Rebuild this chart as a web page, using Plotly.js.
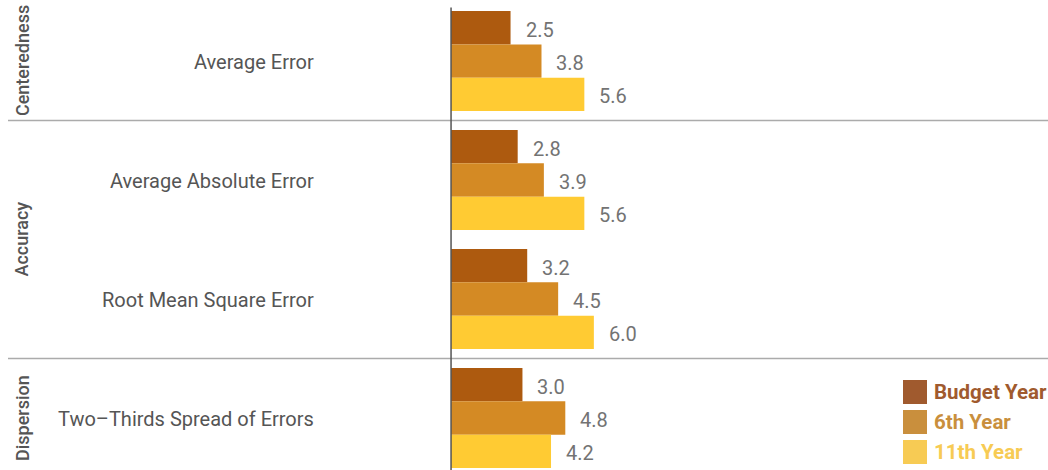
<!DOCTYPE html>
<html>
<head>
<meta charset="utf-8">
<script src="https://cdn.plot.ly/plotly-3.0.1.min.js"></script>
<style>html,body{margin:0;padding:0;background:#fff;}#chart{width:1048px;height:470px;}</style>
</head>
<body>
<div id="chart"></div>
<script>
// ---- data ----
const categories = ['Average Error', 'Average Absolute Error', 'Root Mean Square Error', 'Two\u2013Thirds Spread of Errors'];
const groupNames = ['Centeredness', 'Accuracy', 'Dispersion'];
const groupOfCategory = [0, 1, 1, 2];
const seriesNames = ['Budget Year', '6th Year', '11th Year'];
const budgetYear = [2.5, 2.8, 3.2, 3.0];
const sixthYear = [3.8, 3.9, 4.5, 4.8];
const eleventhYear = [5.6, 5.6, 6.0, 4.2];

// ---- styles ----
const barColors = ['#AD5A0F', '#D48A24', '#FFCB33'];
const legendColors = ['#A05A2E', '#C98F3D', '#F7CB54'];
const seriesValues = [budgetYear, sixthYear, eleventhYear];
const pos = categories.map((c, i) => i);
const bargap = 0.16;
const barW = (1 - bargap) / seriesValues.length;

const traces = seriesValues.map((vals, s) => ({
  type: 'bar', orientation: 'h', name: seriesNames[s],
  x: vals, y: pos, marker: {color: barColors[s]},
  hoverinfo: 'x+name'
}));

const annotations = [];
// value labels
seriesValues.forEach((vals, s) => {
  vals.forEach((v, i) => {
    annotations.push({
      x: v, y: i + (s - (seriesValues.length - 1) / 2) * barW, xref: 'x', yref: 'y',
      text: v.toFixed(1), showarrow: false, xanchor: 'left', yanchor: 'middle',
      xshift: 13, yshift: -2,
      font: {family: 'Roboto', size: 20, color: '#737373'}
    });
  });
});
// category labels
categories.forEach((c, i) => {
  annotations.push({
    x: 316 / 1048, xref: 'paper', y: i, yref: 'y', text: c, showarrow: false,
    xanchor: 'right', yanchor: 'middle', yshift: -1,
    font: {family: 'Roboto', size: 20, color: '#555555'}
  });
});
// group labels
groupNames.forEach((g, gi) => {
  const members = pos.filter(i => groupOfCategory[i] === gi);
  const center = (Math.min(...members) + Math.max(...members)) / 2;
  annotations.push({
    x: 22 / 1048, xref: 'paper', y: center, yref: 'y', text: g, showarrow: false,
    textangle: -90, xanchor: 'center', yanchor: 'middle',
    font: {family: 'Roboto', size: 18, weight: 500, color: '#555555'}
  });
});
// legend (manual)
const shapes = [];
seriesNames.forEach((n, s) => {
  const top = 380 + s * 30;
  shapes.push({
    type: 'rect', xref: 'paper', yref: 'paper',
    x0: 903 / 1048, x1: 927 / 1048, y0: 1 - (top + 24) / 470, y1: 1 - top / 470,
    fillcolor: legendColors[s], line: {width: 0}
  });
  annotations.push({
    x: 932 / 1048, xref: 'paper', y: 1 - (top + 12) / 470, yref: 'paper',
    text: '<b>' + n + '</b>', showarrow: false, xanchor: 'left', yanchor: 'middle',
    font: {family: 'Roboto', size: 20.5, color: legendColors[s]}
  });
});
// group separators
for (let i = 1; i < categories.length; i++) {
  if (groupOfCategory[i] !== groupOfCategory[i - 1]) {
    shapes.push({
      type: 'line', xref: 'paper', yref: 'y', x0: 8 / 1048, x1: 1, y0: i - 0.5, y1: i - 0.5,
      line: {color: '#ababab', width: 1.5}
    });
  }
}
// zero line
shapes.push({
  type: 'line', xref: 'x', yref: 'y', x0: 0, x1: 0, y0: -0.45, y1: 3.6,
  line: {color: '#555555', width: 1.5}
});

const layout = {
  width: 1048, height: 470,
  margin: {l: 0, r: 0, t: 0, b: 0},
  paper_bgcolor: '#ffffff', plot_bgcolor: '#ffffff',
  barmode: 'group', bargap: bargap, bargroupgap: 0,
  showlegend: false,
  xaxis: {range: [-18.95, 25.08], showgrid: false, zeroline: false, showticklabels: false, ticks: '', fixedrange: true},
  yaxis: {range: [3.437, -0.513], showgrid: false, zeroline: false, showticklabels: false, ticks: '', fixedrange: true},
  annotations: annotations,
  shapes: shapes,
  font: {family: 'Roboto'}
};

Plotly.newPlot('chart', traces, layout, {displayModeBar: false, staticPlot: true});
</script>
</body>
</html>
